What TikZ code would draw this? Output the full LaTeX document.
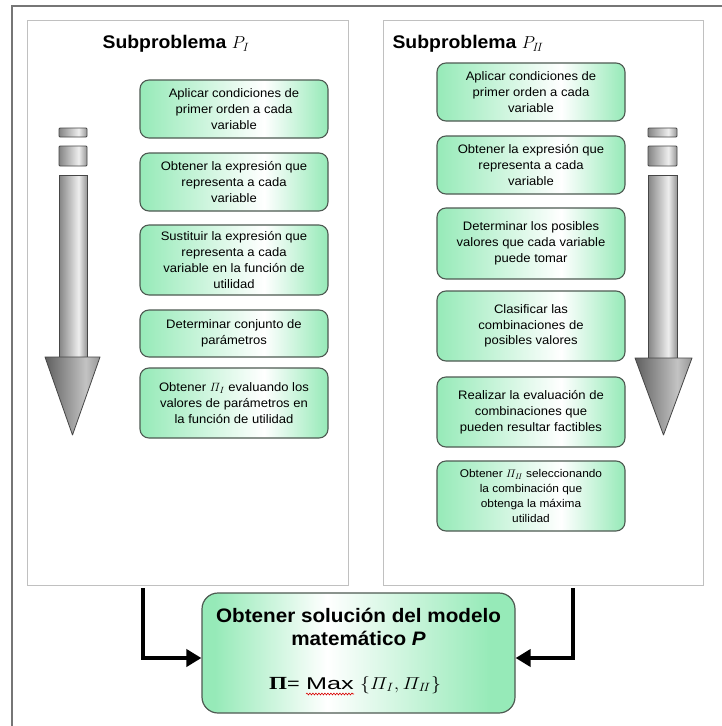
\documentclass[tikz,border=0pt]{standalone}
\usepackage{amsmath}
\usepackage{fontspec}
\setmainfont[FakeStretch=1.06]{Liberation Sans}
\newfontfamily\timesfont{Liberation Serif}
\usetikzlibrary{arrows.meta,decorations.pathmorphing}

\definecolor{boxgreen}{RGB}{150,234,184}
\definecolor{boxline}{RGB}{78,90,82}
\definecolor{panelline}{RGB}{192,192,192}
\definecolor{framegray}{RGB}{118,118,118}
\definecolor{shaftdark}{RGB}{132,132,132}
\definecolor{shaftlight}{RGB}{238,238,238}
\definecolor{shaftright}{RGB}{150,150,150}
\definecolor{headdark}{RGB}{95,95,95}
\definecolor{headlight}{RGB}{195,195,195}
\definecolor{arrowline}{RGB}{70,70,70}

% green fill of the step boxes: green at both sides, white towards the right
\pgfdeclarehorizontalshading{stepshade}{100bp}{color(0bp)=(boxgreen); color(25bp)=(boxgreen); color(58bp)=(white); color(75bp)=(boxgreen); color(100bp)=(boxgreen)}
% green fill of the result box: white a little left of centre
\pgfdeclarehorizontalshading{finalshade}{100bp}{color(0bp)=(boxgreen); color(27bp)=(boxgreen); color(45bp)=(white); color(71bp)=(boxgreen); color(100bp)=(boxgreen)}
% metallic grey of the big down arrows
\pgfdeclarehorizontalshading{shaftshade}{100bp}{color(0bp)=(shaftdark); color(25bp)=(shaftdark); color(60bp)=(shaftlight); color(75bp)=(shaftright); color(100bp)=(shaftright)}
\pgfdeclarehorizontalshading{headshade}{100bp}{color(0bp)=(headdark); color(25bp)=(headdark); color(62bp)=(headlight); color(75bp)=(shaftright); color(100bp)=(shaftright)}

\tikzset{
  panel/.style={draw=panelline, line width=1pt, fill=white, minimum width=#1, minimum height=565pt, inner sep=0pt},
  paneltitle/.style={font=\fontsize{18.3}{22}\selectfont\bfseries, inner sep=0pt},
  stepbox/.style={draw=boxline, line width=1.1pt, rounded corners=9pt, shading=stepshade,
    minimum width=188pt, minimum height=#1, inner sep=0pt, align=center,
    font=\fontsize{12.3}{15.8}\selectfont},
  finalbox/.style={draw=boxline, line width=1.2pt, rounded corners=16pt, shading=finalshade,
    minimum width=313pt, minimum height=120pt, inner sep=0pt},
  formula/.style={inner sep=0pt, font=\fontsize{17}{20}\selectfont},
  conn/.style={line width=4.2pt, -{Triangle[length=15pt,width=17pt]}},
  shaft/.style={draw=arrowline, line width=0.8pt, shading=shaftshade},
  head/.style={draw=arrowline, line width=0.8pt, shading=headshade, line join=round},
}

\begin{document}
\begin{tikzpicture}[x=1pt, y=-1pt]
\useasboundingbox (0,0) rectangle (722,726);
\fill[white] (0,0) rectangle (722,726);

% outer frame (left and top edges)
\draw[framegray, line width=2pt] (12,726) -- (12,6) -- (722,6);

% the two subproblem panels
\node[panel=321pt] (panelL) at (187.5,302.5) {};
\node[panel=320pt] (panelR) at (543,302.5) {};

\node[paneltitle] (titleL) at (176,44) {Subproblema $P_I$};
\node[paneltitle] (titleR) at (468,44) {Subproblema $P_{I\!I}$};

% steps of subproblem I
\node[stepbox=58pt] (l1) at (234,109) {Aplicar condiciones de\\primer orden a cada\\variable};
\node[stepbox=58pt] (l2) at (234,182) {Obtener la expresión que\\representa a cada\\variable};
\node[stepbox=70pt] (l3) at (234,260) {Sustituir la expresión que\\representa a cada\\variable en la función de\\utilidad};
\node[stepbox=47pt] (l4) at (234,333.5) {Determinar conjunto de\\parámetros};
\node[stepbox=70pt] (l5) at (234,403) {Obtener $\varPi_I$ evaluando los\\valores de parámetros en\\la función de utilidad};

% steps of subproblem II
\node[stepbox=58pt] (r1) at (531,92) {Aplicar condiciones de\\primer orden a cada\\variable};
\node[stepbox=58pt] (r2) at (531,165) {Obtener la expresión que\\representa a cada\\variable};
\node[stepbox=71pt] (r3) at (531,243.5) {Determinar los posibles\\valores que cada variable\\puede tomar};
\node[stepbox=70pt] (r4) at (531,326) {Clasificar las\\combinaciones de\\posibles valores};
\node[stepbox=70pt] (r5) at (531,412) {Realizar la evaluación de\\combinaciones que\\pueden resultar factibles};
\node[stepbox=70pt, font=\fontsize{11.2}{15}\selectfont] (r6) at (531,496) {Obtener $\varPi_{I\!I}$ seleccionando\\la combinación que\\obtenga la máxima\\utilidad};

% big grey down arrow, left panel
\shade[shaft, rounded corners=1pt] (59,128) rectangle (87,137);
\shade[shaft, rounded corners=1pt] (59,146) rectangle (87,166);
\shade[shaft] (59,175) rectangle (87,357);
\shade[head] (45,357) -- (100,357) -- (72.5,435) -- cycle;

% big grey down arrow, right panel
\shade[shaft, rounded corners=1pt] (648,128) rectangle (677,137);
\shade[shaft, rounded corners=1pt] (648,146) rectangle (677,166);
\shade[shaft] (648,175) rectangle (677,358);
\shade[head] (635,358) -- (692,358) -- (663.5,435) -- cycle;

% result box
\node[finalbox] (final) at (358.5,653) {};
\node[inner sep=0pt, align=center, font=\fontsize{19.5}{23}\selectfont\bfseries] (finaltext) at (358.5,627)
  {Obtener solución del modelo\\matemático \textit{P}};
\node[formula, anchor=base west] (fpi) at (269,689) {\scalebox{1.25}[1]{{\fontsize{18.5}{20}\timesfont\bfseries Π}}\scalebox{1.2}[1]{=}};
\node[formula, anchor=base west] (fmax) at (306,689) {\scalebox{1.4}[1]{Max}};
\node[formula, anchor=base west] (fset) at (360,689) {\scalebox{1.15}[1]{$\{\varPi_I,\varPi_{I\!I}\}$}};
\draw[red!85!black, line width=0.6pt, decorate, decoration={snake, amplitude=0.9pt, segment length=3pt}]
  ([yshift=-5pt]fmax.base west) -- ([yshift=-5pt]fmax.base east);

% connectors from the panels to the result box
\coordinate (outL) at (143,588);
\coordinate (outR) at (573,588);
\draw[conn] (outL) |- ([yshift=-5pt]final.west);
\draw[conn] (outR) |- ([yshift=-5pt]final.east);
\end{tikzpicture}
\end{document}
